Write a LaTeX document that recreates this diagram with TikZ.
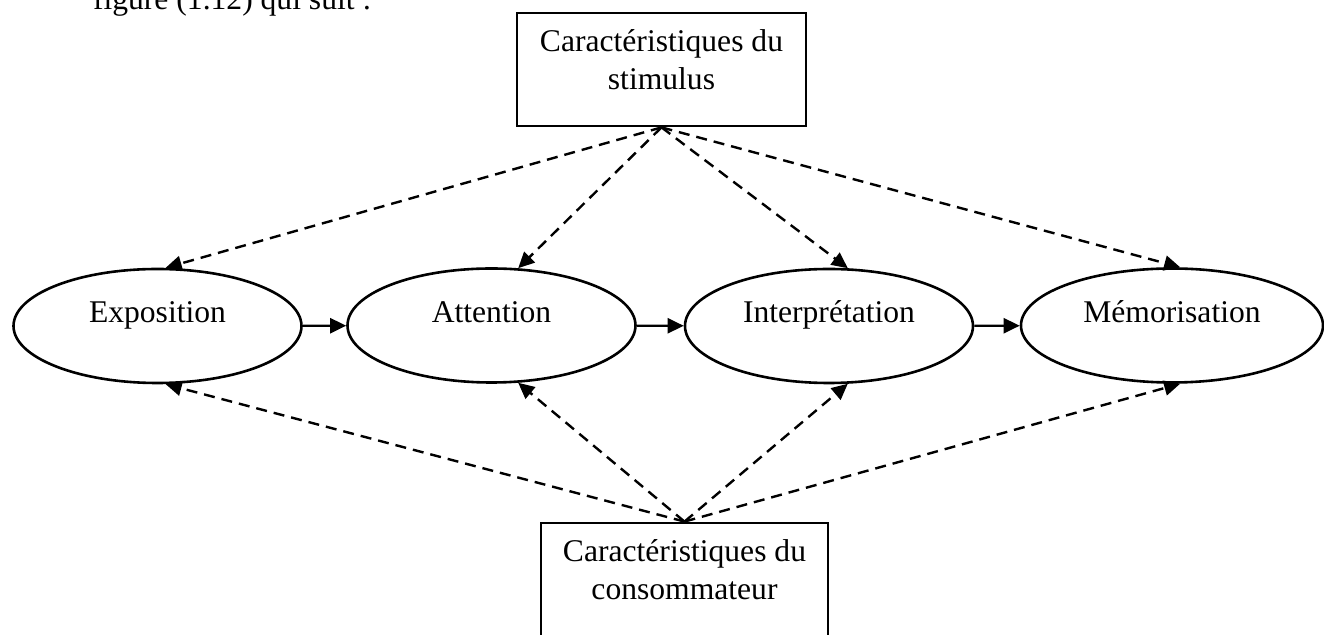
\documentclass[tikz,border=0pt]{standalone}
\usepackage{fontspec}
\setmainfont{Liberation Serif}
\usetikzlibrary{arrows.meta,shapes.geometric}

\begin{document}
\begin{tikzpicture}
[x=0.5pt,y=-0.5pt,font=\fontsize{15.8pt}{19pt}\selectfont,
bulle/.style={ellipse,draw=black,line width=1.3pt,inner
    sep=0pt,minimum width=144pt,minimum height=57pt,text height=10pt,text depth=13.3pt},
boite/.style={rectangle,draw=black,line width=1.4pt,inner sep=0pt},
pointille/.style={line width=1.2pt,dash pattern=on 5.5pt off 3.5pt,-{Triangle[length=8pt,width=7.5pt]}},
fleche/.style={line width=1.2pt,-{Triangle[length=8pt,width=7.5pt]}}]
\useasboundingbox (0,0) rectangle (1324,635);
\clip (0,0) rectangle (1324,635);

\node (titre) at (86,10) [anchor=base west] {figure (1.12) qui suit :};

\node[boite,minimum width=144.5pt,minimum height=56.5pt] (stim) at (661.5,69.5)
[label={[anchor=north,align=center,yshift=-5.6pt]north:Caractéristiques du\\stimulus}] {};
\node[boite,minimum width=143.5pt,minimum height=70pt] (conso) at (684.5,593)
[label={[anchor=north,align=center,yshift=-5.6pt]north:Caractéristiques du\\consommateur}] {};

\node[bulle] (expo) at (157.5,326) {Exposition};
\node[bulle] (attn) at (491.5,325.5) {Attention};
\node[bulle] (interp) at (829,326) {Interprétation};
\node[bulle,minimum width=151pt] (memo) at (1172,325.5) {Mémorisation};

\draw [fleche] (expo) -- (attn);
\draw [fleche] (attn) -- (interp);
\draw [fleche] (interp) -- (memo);

\draw [pointille] (stim.south) -- (expo.82.5);
\draw [pointille] (stim.south) -- (attn.65);
\draw [pointille] (stim.south) -- (interp.72);
\draw [pointille] (stim.south) -- (memo.82);

\draw [pointille] (conso.north) -- (expo.-82.5);
\draw [pointille] (conso.north) -- (attn.-65);
\draw [pointille] (conso.north) -- (interp.-72.5);
\draw [pointille] (conso.north) -- (memo.-82);
\end{tikzpicture}
\end{document}
